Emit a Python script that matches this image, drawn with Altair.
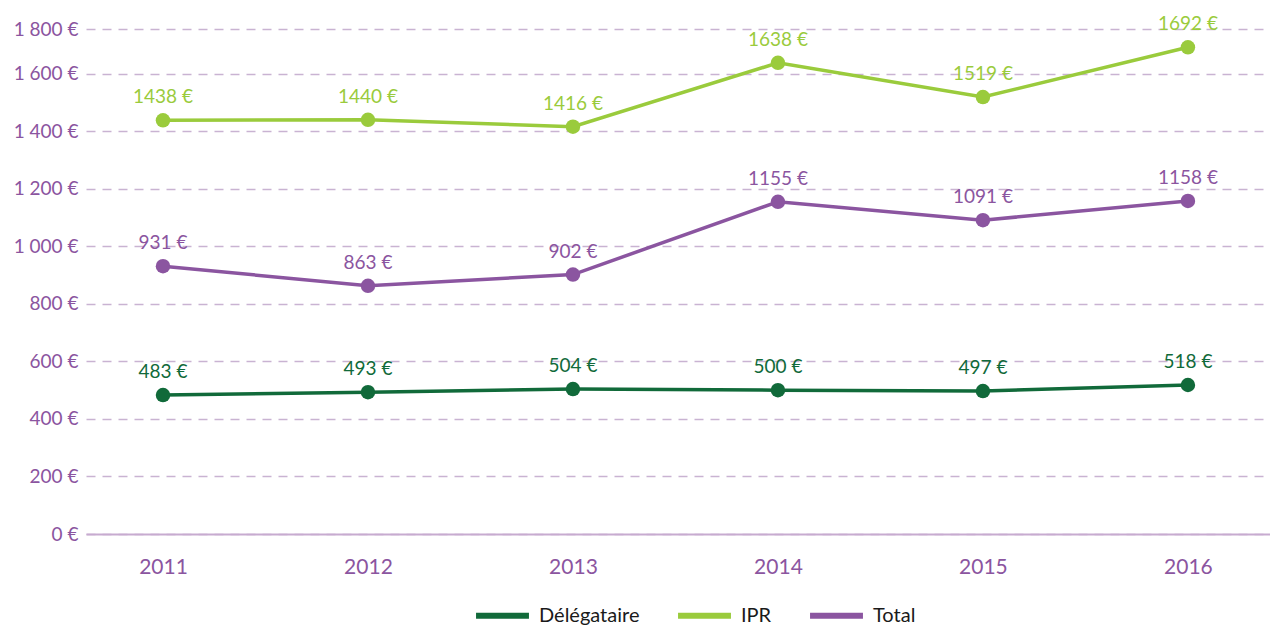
import altair as alt
import pandas as pd

years = ["2011", "2012", "2013", "2014", "2015", "2016"]
delegataire = [483, 493, 504, 500, 497, 518]
ipr = [1438, 1440, 1416, 1638, 1519, 1692]
total = [931, 863, 902, 1155, 1091, 1158]
series = ["Délégataire", "IPR", "Total"]
colors = ["#116a3a", "#9acb3c", "#8b55a0"]
y_ticks = [0, 200, 400, 600, 800, 1000, 1200, 1400, 1600, 1800]

rows = []
for name, vals in zip(series, [delegataire, ipr, total]):
    for y, v in zip(years, vals):
        rows.append({"year": y, "series": name, "value": v, "label": f"{v} €"})
df = pd.DataFrame(rows)

FONT = "Lato"
PURPLE = "#8b55a0"

x = alt.X("year:O", scale=alt.Scale(type="point", padding=0.388, align=0.484),
          axis=alt.Axis(title=None, labelAngle=0, ticks=False, domainColor="#c7abd0",
                        domainWidth=2, labelColor=PURPLE, labelFont=FONT, labelFontSize=21,
                        labelPadding=22, grid=False))
y = alt.Y("value:Q", scale=alt.Scale(domain=[0, 1700, 1800], range=[505, 16, 0]),
          axis=alt.Axis(title=None, values=y_ticks, ticks=False, domain=False,
                        labelColor=PURPLE, labelFont=FONT, labelFontSize=19, labelPadding=8,
                        labelExpr="replace(format(datum.value, ',d'), ',', ' ') + ' €'",
                        grid=True, gridColor="#c9b3d2", gridDash=[9, 7], gridWidth=1.5))
color_scale = alt.Scale(domain=series, range=colors)

base = alt.Chart(df)
lines = base.mark_line(strokeWidth=3.5).encode(
    x=x, y=y,
    color=alt.Color("series:N", scale=color_scale, sort=series,
                    legend=alt.Legend(title=None, orient="none", direction="horizontal",
                                      legendX=387, legendY=557, symbolType="stroke",
                                      symbolSize=2800, symbolStrokeWidth=6,
                                      labelFont=FONT, labelFontSize=20, labelColor="#1a1a1a",
                                      columnPadding=26, labelOffset=7)))
points = base.mark_point(filled=True, size=210, opacity=1).encode(
    x=x, y=y, color=alt.Color("series:N", scale=color_scale, legend=None))
labels = base.mark_text(dy=-23, font=FONT, fontSize=19).encode(
    x=x, y=y, text="label:N", color=alt.Color("series:N", scale=color_scale, legend=None))

chart = alt.layer(lines, points, labels).properties(
    width=1184, height=505,
    autosize=alt.AutoSizeParams(type="none"),
    padding={"left": 78, "top": 21, "right": 0, "bottom": 95},
).configure_view(stroke=None)

chart.save("out.html", embed_options={"renderer": "svg", "actions": False})
